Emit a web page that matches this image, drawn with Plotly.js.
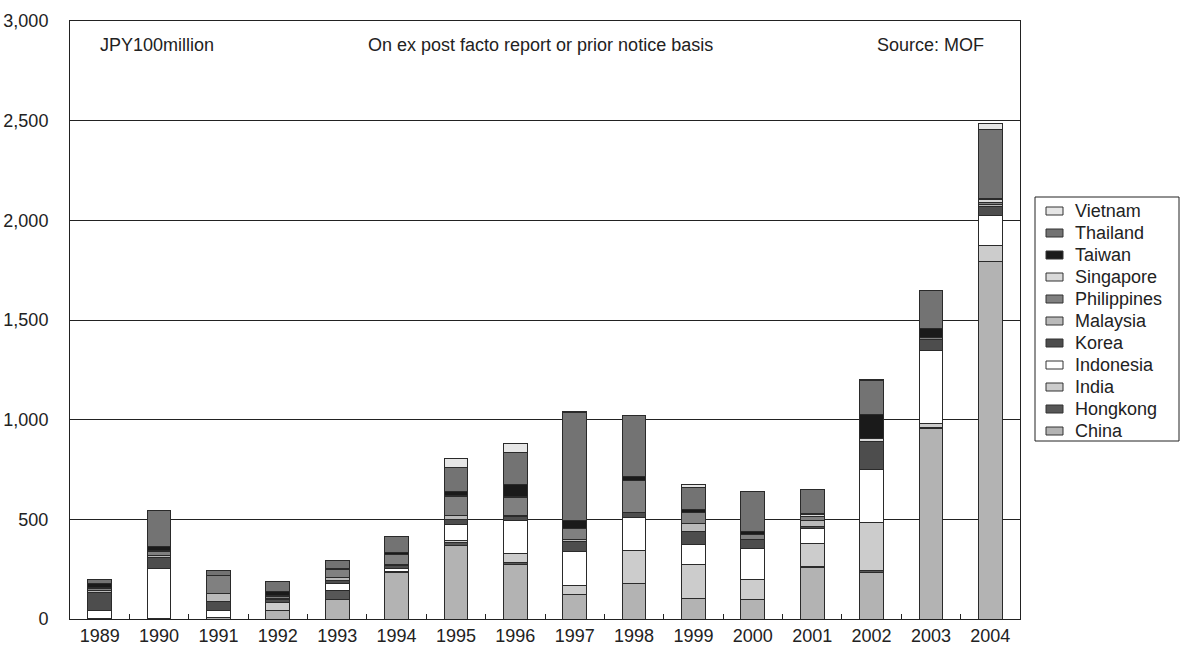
<!DOCTYPE html>
<html>
<head>
<meta charset="utf-8">
<script src="https://cdn.plot.ly/plotly-3.0.1.min.js"></script>
<style>html,body{margin:0;padding:0;background:#fff;}#chart{width:1180px;height:649px;}</style>
</head>
<body>
<div id="chart"></div>
<script>
const years = ["1989","1990","1991","1992","1993","1994","1995","1996","1997","1998","1999","2000","2001","2002","2003","2004"];

const china       = [3,   5,   10,  43,  98,  233, 368, 274, 122, 176, 104, 100, 260, 234, 955, 1794];
const hongkong    = [0,   0,   0,   0,   47,  5,   15,  7,   0,   0,   0,   0,   5,   8,   7,   0];
const india       = [0,   0,   0,   42,  0,   0,   13,  50,  48,  167, 171, 100, 112, 242, 20,  82];
const indonesia   = [40,  250, 33,  0,   35,  17,  80,  162, 169, 164, 97,  154, 77,  266, 363, 147];
const korea       = [90,  55,  47,  12,  12,  13,  23,  20,  50,  27,  65,  45,  12,  142, 55,  45];
const malaysia    = [10,  8,   38,  5,   15,  5,   22,  5,   12,  0,   40,  0,   30,  0,   0,   12];
const philippines = [10,  20,  88,  12,  40,  50,  95,  92,  55,  159, 57,  27,  20,  0,   13,  8];
const singapore   = [3,   8,   0,   3,   5,   0,   3,   3,   0,   0,   0,   0,   10,  13,  0,   18];
const taiwan      = [22,  20,  0,   20,  3,   12,  23,  64,  37,  23,  13,  12,  5,   122, 45,  5];
const thailand    = [20,  179, 25,  52,  38,  79,  119, 160, 544, 303, 114, 201, 117, 172, 192, 343];
const vietnam     = [0,   0,   0,   0,   0,   0,   43,  45,  5,   0,   15,  0,   3,   5,   0,   33];

const seriesNames = ["China","Hongkong","India","Indonesia","Korea","Malaysia","Philippines","Singapore","Taiwan","Thailand","Vietnam"];
const seriesData = [china,hongkong,india,indonesia,korea,malaysia,philippines,singapore,taiwan,thailand,vietnam];
const seriesColors = ["#b3b3b3","#575757","#cccccc","#ffffff","#4d4d4d","#bababa","#808080","#d9d9d9","#1a1a1a","#737373","#e6e6e6"];

const traces = seriesNames.map((n,i)=>({
  type:'bar', name:n, x:years, y:seriesData[i],
  marker:{color:seriesColors[i], line:{color:'#2a2a2a', width:1}},
  showlegend:false
}));

const fam = '"Liberation Sans", Arial, sans-serif';
const font = {family:fam, size:18, color:'#222'};

// plot area geometry (px) used to place the hand-built legend in paper units
const W = 1180, H = 649, ML = 70, MR = 160, MT = 21, MB = 30;
const PW = W-ML-MR, PH = H-MT-MB;
const px = x => (x-ML)/PW;
const py = y => (H-MB-y)/PH;

const shapes = [
  {type:'rect', xref:'paper', yref:'paper', x0:px(1035), x1:px(1179), y0:py(441), y1:py(197),
   line:{color:'#222', width:1}, fillcolor:'#fff', layer:'above'}
];
const annotations = [
  {xref:'paper', yref:'paper', x:px(98), y:py(45), xanchor:'left', yanchor:'middle', text:'JPY100million', showarrow:false, font:font},
  {xref:'paper', yref:'paper', x:px(540), y:py(45), xanchor:'center', yanchor:'middle', text:'On ex post facto report or prior notice basis', showarrow:false, font:font},
  {xref:'paper', yref:'paper', x:px(986), y:py(45), xanchor:'right', yanchor:'middle', text:'Source: MOF', showarrow:false, font:font}
];
// legend entries, top to bottom: reversed series order
for (let k=0; k<seriesNames.length; k++){
  const i = seriesNames.length-1-k;
  const cy = 211 + k*22;
  shapes.push({type:'rect', xref:'paper', yref:'paper', x0:px(1046), x1:px(1063), y0:py(cy+4), y1:py(cy-4),
    line:{color:'#333', width:1}, fillcolor:seriesColors[i], layer:'above'});
  annotations.push({xref:'paper', yref:'paper', x:px(1073), y:py(cy), xanchor:'left', yanchor:'middle',
    text:seriesNames[i], showarrow:false, font:font});
}

const layout = {
  width:W, height:H,
  margin:{l:ML, r:MR, t:MT, b:MB},
  barmode:'stack', bargap:0.6,
  paper_bgcolor:'#fff', plot_bgcolor:'#fff',
  font:font,
  showlegend:false,
  xaxis:{type:'category', showline:true, linecolor:'#222', linewidth:1, mirror:true,
         ticks:'inside', ticklen:5, tickcolor:'#222', tickson:'boundaries',
         showgrid:false, tickfont:font, zeroline:false},
  yaxis:{range:[0,3000], dtick:500, tickformat:',d', showline:true, linecolor:'#222', linewidth:1, mirror:true,
         showgrid:true, gridcolor:'#222', gridwidth:1, ticks:'', tickfont:font, zeroline:false,
         ticklabelstandoff:17},
  shapes:shapes,
  annotations:annotations
};

Plotly.newPlot('chart', traces, layout, {displayModeBar:false, staticPlot:true});
</script>
</body>
</html>
